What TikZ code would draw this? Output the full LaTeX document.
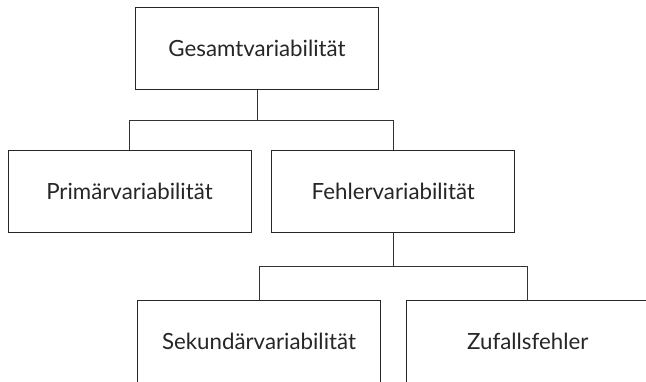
\documentclass[tikz,border=0pt]{standalone}
\usepackage{fontspec}
\setmainfont{Lato}
\usepackage{tikz}
\usetikzlibrary{positioning}

\tikzset{
  varbox/.style={draw=black!85, line width=0.8pt, text=black!85, font=\fontsize{22.3}{24}\selectfont,
    minimum width=243pt, minimum height=82pt, inner sep=0pt},
  branch/.style={draw=black!80, line width=0.8pt}
}

\begin{document}
\begin{tikzpicture}[x=1pt, y=-1pt]
        \useasboundingbox (0,0) rectangle (646,381);
        \clip (0,0) rectangle (646,381);
        \node[varbox] (gesamt) at (257,48.5) {Gesamtvariabilität};
        \node[varbox] (prim) at (129.5,191.5) {Primärvariabilität};
        \node[varbox, right=20pt of prim] (fehler) {Fehlervariabilität};
        \node[varbox] (sek) at (259,341.5) {Sekundärvariabilität};
        \node[varbox, right=25pt of sek] (zufall) {Zufallsfehler};
        % Verzweigungen
        \draw[branch] (gesamt.south) -- ++(0,30.5) coordinate (g1) -| (prim.north);
        \draw[branch] (g1) -| (fehler.north);
        \draw[branch] (fehler.south) -- ++(0,33.5) coordinate (f1) -| (sek.north);
        \draw[branch] (f1) -| (zufall.north);
    \end{tikzpicture}
\end{document}
